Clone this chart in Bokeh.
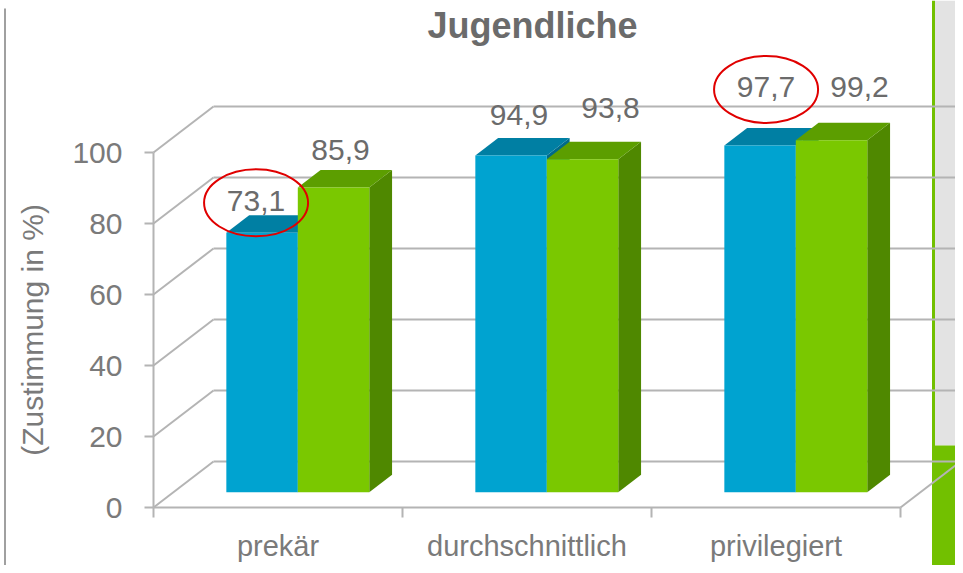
import numpy as np
from bokeh.plotting import figure
from bokeh.models import FixedTicker, Range1d, BoxAnnotation
from bokeh.core.properties import value
from bokeh.embed import file_html
from bokeh.resources import INLINE

# ---------------- data ----------------
categories = ["prekär", "durchschnittlich", "privilegiert"]
blue_values = [73.1, 94.9, 97.7]
green_values = [85.9, 93.8, 99.2]
y_ticks = [0, 20, 40, 60, 80, 100]
circled_blue = [0, 2]          # indices of blue labels that are circled
chart_title = "Jugendliche"
y_label = "(Zustimmung in %)"

# ---------------- layout / style ----------------
W, H = 955, 565
ORIGIN_X, ORIGIN_Y = 153, 507   # canvas px of the front axes origin
PX_CAT = 249.0          # px per category
PX_UNIT = 3.55          # px per percent


def dx(px):   # horizontal px -> data units
    return px / PX_CAT


def dy(px):   # vertical px -> data units
    return px / PX_UNIT


def cx(px):   # canvas x -> data x
    return (px - ORIGIN_X) / PX_CAT


def cy(px):   # canvas y -> data y
    return (ORIGIN_Y - px) / PX_UNIT


WALL_DX = dx(60)        # 3-D depth offset of back wall (data units)
WALL_DY = dy(46)
F0, F1 = 0.33, 0.71     # depth fraction of bar front / back
BAR_W = 0.287

FONT = value("Liberation Sans")
GRID = "#b4b4b4"
TXT = "#6b6b6b"
TICK_TXT = "#7a7a7a"

BLUE = dict(front="#00a3d0", top="#007fa3", side="#006a8a")
GREEN = dict(front="#7ac800", top="#5c9e00", side="#4f8800")

# label nudges (px) relative to top-front centre of each bar
blue_nudge = [(-6, 32), (8, 40), (6, 58)]
green_nudge = [(7, 37), (28, 51), (28, 53)]


def fmt(v):
    return f"{v:.1f}".replace(".", ",")


p = figure(width=W, height=H, output_backend="svg", toolbar_location=None,
           x_range=Range1d(cx(0), cx(W)), y_range=Range1d(cy(H), cy(0)),
           min_border_left=0, min_border_right=0, min_border_top=0,
           min_border_bottom=0)
p.title.visible = False
p.outline_line_color = None
p.grid.visible = False
p.background_fill_color = "white"
p.border_fill_color = "white"

# ---------------- decoration ----------------
xl, xr, ysplit = cx(931.5), cx(934.5), cy(445)
for b in [BoxAnnotation(left=xl, right=xr, fill_color="#72c000"),
          BoxAnnotation(left=xr, bottom=ysplit, fill_color="#e3e3e3"),
          BoxAnnotation(left=xl, top=ysplit, fill_color="#72c000")]:
    b.fill_alpha = 1
    b.line_alpha = 0
    b.level = "underlay"
    p.add_layout(b)
p.segment([cx(4.5)], [cy(8)], [cx(4.5)], [cy(H)], line_color="#808080", line_width=1.5)

# ---------------- walls / gridlines ----------------
gx0, gx1, gy0, gy1 = [], [], [], []
for t in y_ticks:
    gx0.append(WALL_DX); gy0.append(t + WALL_DY); gx1.append(cx(W)); gy1.append(t + WALL_DY)
    gx0.append(0); gy0.append(t); gx1.append(WALL_DX); gy1.append(t + WALL_DY)
n = len(categories)
gx0.append(n); gy0.append(0); gx1.append(n + WALL_DX); gy1.append(WALL_DY)
p.segment(gx0, gy0, gx1, gy1, line_color=GRID, line_width=2)

# ---------------- bars ----------------
ddx = (F1 - F0) * WALL_DX
ddy = (F1 - F0) * WALL_DY
ox = F0 * WALL_DX
oy = F0 * WALL_DY


def bar_faces(lefts, vals):
    rights = [l + BAR_W for l in lefts]
    bottoms = [oy] * len(vals)
    tops = [v + oy for v in vals]
    top_xs = [[l, r, r + ddx, l + ddx] for l, r in zip(lefts, rights)]
    top_ys = [[t, t, t + ddy, t + ddy] for t in tops]
    side_xs = [[r, r + ddx, r + ddx, r] for r in rights]
    side_ys = [[b, b + ddy, t + ddy, t] for b, t in zip(bottoms, tops)]
    return rights, bottoms, tops, top_xs, top_ys, side_xs, side_ys


idx = np.arange(n)
blue_left = [i + 0.5 - BAR_W + ox for i in idx]
green_left = [i + 0.5 + ox for i in idx]

for lefts, vals, col in [(blue_left, blue_values, BLUE), (green_left, green_values, GREEN)]:
    rights, bottoms, tops, txs, tys, sxs, sys_ = bar_faces(lefts, vals)
    p.patches(sxs, sys_, fill_color=col["side"], line_color=None)
    p.patches(txs, tys, fill_color=col["top"], line_color=None)
    p.quad(left=lefts, right=rights, bottom=bottoms, top=tops,
           fill_color=col["front"], line_color=None)

# ---------------- value labels ----------------
lx, ly, lt = [], [], []
for lefts, vals, nud in [(blue_left, blue_values, blue_nudge), (green_left, green_values, green_nudge)]:
    for l, v, (nx, ny) in zip(lefts, vals, nud):
        lx.append(l + BAR_W / 2 + dx(nx))
        ly.append(v + oy + dy(ny))
        lt.append(fmt(v))
p.text(x=lx, y=ly, text=lt, text_font=FONT, text_font_size="30px",
       text_color=TXT, text_align="center", text_baseline="middle")

ex = [lx[i] for i in circled_blue]
ey = [ly[i] - dy(2) for i in circled_blue]
p.ellipse(x=ex, y=ey, width=104, height=67, width_units="screen", height_units="screen",
          fill_alpha=0, line_color="#e00000", line_width=2)

# ---------------- title ----------------
p.text(x=[cx(532)], y=[cy(25)], text=[chart_title],
       text_font=FONT, text_font_size="36px", text_font_style="bold",
       text_color=TXT, text_align="center", text_baseline="middle")

# ---------------- axes ----------------
ya = p.yaxis[0]
ya.fixed_location = 0
ya.ticker = FixedTicker(ticks=y_ticks, minor_ticks=[])
ya.bounds = (min(y_ticks), max(y_ticks))
ya.axis_line_color = GRID
ya.axis_line_width = 2
ya.major_tick_line_color = GRID
ya.major_tick_line_width = 2
ya.major_tick_out = 9
ya.major_tick_in = 0
ya.minor_tick_line_color = None
ya.major_label_standoff = 22
ya.major_label_text_font = "Liberation Sans"
ya.major_label_text_font_size = "30px"
ya.major_label_text_color = TICK_TXT
ya.axis_label = y_label
ya.axis_label_text_font = "Liberation Sans"
ya.axis_label_text_font_size = "30px"
ya.axis_label_text_font_style = "normal"
ya.axis_label_text_color = TICK_TXT
ya.axis_label_standoff = 20

xa = p.xaxis[0]
xa.fixed_location = 0
centers = [i + 0.5 for i in idx]
xa.ticker = FixedTicker(ticks=centers, minor_ticks=[float(i) for i in range(n + 1)])
xa.major_label_overrides = {float(c): lab for c, lab in zip(centers, categories)}
xa.bounds = (0, n)
xa.axis_line_color = GRID
xa.axis_line_width = 2
xa.major_tick_line_color = None
xa.major_tick_out = 0
xa.major_tick_in = 0
xa.minor_tick_line_color = GRID
xa.minor_tick_line_width = 2
xa.minor_tick_out = 10
xa.minor_tick_in = 0
xa.major_label_standoff = 12
xa.major_label_text_font = "Liberation Sans"
xa.major_label_text_font_size = "29px"
xa.major_label_text_color = TICK_TXT

open("out.html", "w").write(file_html(p, INLINE))
